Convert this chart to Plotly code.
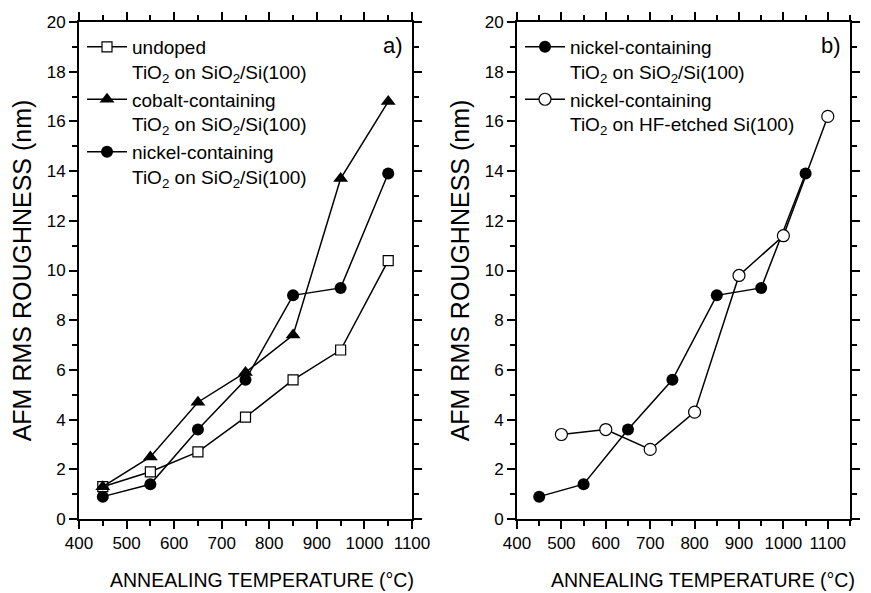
import plotly.graph_objects as go

temps_a = [450, 550, 650, 750, 850, 950, 1050]
undoped = [1.3, 1.9, 2.7, 4.1, 5.6, 6.8, 10.4]
cobalt = [1.3, 2.5, 4.7, 5.9, 7.4, 13.7, 16.8]
nickel = [0.9, 1.4, 3.6, 5.6, 9.0, 9.3, 13.9]

temps_hf = [500, 600, 700, 800, 900, 1000, 1100]
nickel_hf = [3.4, 3.6, 2.8, 4.3, 9.8, 11.4, 16.2]

x_ticks = [400, 500, 600, 700, 800, 900, 1000, 1100]
y_ticks = [0, 2, 4, 6, 8, 10, 12, 14, 16, 18, 20]

X_TITLE = "ANNEALING TEMPERATURE (°C)"
Y_TITLE = "AFM RMS ROUGHNESS (nm)"

FONT = "Liberation Sans"
W, H = 871, 593
line = dict(color="black", width=1.5)

fig = go.Figure()
fig.add_trace(go.Scatter(x=temps_a, y=undoped, mode="lines+markers", line=line,
                         marker=dict(symbol="square", size=10, color="white", line=dict(color="black", width=1.2)),
                         name="undoped<br>TiO<sub>2</sub> on SiO<sub>2</sub>/Si(100)", xaxis="x", yaxis="y", legend="legend"))
fig.add_trace(go.Scatter(x=temps_a, y=cobalt, mode="lines+markers", line=line,
                         marker=dict(symbol="triangle-up", size=13, color="black"),
                         name="cobalt-containing<br>TiO<sub>2</sub> on SiO<sub>2</sub>/Si(100)", xaxis="x", yaxis="y", legend="legend"))
fig.add_trace(go.Scatter(x=temps_a, y=nickel, mode="lines+markers", line=line,
                         marker=dict(symbol="circle", size=12, color="black"),
                         name="nickel-containing<br>TiO<sub>2</sub> on SiO<sub>2</sub>/Si(100)", xaxis="x", yaxis="y", legend="legend"))
fig.add_trace(go.Scatter(x=temps_a, y=nickel, mode="lines+markers", line=line,
                         marker=dict(symbol="circle", size=12, color="black"),
                         name="nickel-containing<br>TiO<sub>2</sub> on SiO<sub>2</sub>/Si(100)", xaxis="x2", yaxis="y2", legend="legend2"))
fig.add_trace(go.Scatter(x=temps_hf, y=nickel_hf, mode="lines+markers", line=line,
                         marker=dict(symbol="circle", size=12, color="white", line=dict(color="black", width=1.2)),
                         name="nickel-containing<br>TiO<sub>2</sub> on HF-etched Si(100)", xaxis="x2", yaxis="y2", legend="legend2"))

x0a, x1a = 79 / W, 412 / W
x0b, x1b = 517 / W, 850 / W
y0, y1 = (H - 519) / H, (H - 22) / H


def xaxis(domain, anchor, rng):
    return dict(domain=domain, anchor=anchor, range=rng, tickvals=x_ticks, automargin=False,
                ticks="outside", ticklen=8, tickwidth=1.5, tickcolor="black",
                minor=dict(dtick=50, tick0=400, ticks="outside", ticklen=5, tickwidth=1.5, tickcolor="black"),
                showline=True, linewidth=2, linecolor="black", mirror="allticks",
                showgrid=False, zeroline=False,
                tickfont=dict(size=17, color="black", family=FONT))


def yaxis(anchor):
    return dict(domain=[y0, y1], anchor=anchor, range=[0, 20], tickvals=y_ticks, automargin=False,
                ticks="outside", ticklen=8, tickwidth=1.5, tickcolor="black",
                minor=dict(dtick=1, ticks="outside", ticklen=5, tickwidth=1.5, tickcolor="black"),
                showline=True, linewidth=2, linecolor="black", mirror="allticks",
                showgrid=False, zeroline=False,
                tickfont=dict(size=17, color="black", family=FONT),
                title=dict(text=Y_TITLE, font=dict(size=25, color="black", family=FONT), standoff=8))


legend_common = dict(bgcolor="rgba(0,0,0,0)", borderwidth=0, valign="top", itemwidth=40,
                     font=dict(size=19, color="black", family=FONT), tracegroupgap=0,
                     xanchor="left", yanchor="top", itemclick=False)

fig.update_layout(
    width=W, height=H, margin=dict(l=0, r=0, t=0, b=0),
    paper_bgcolor="white", plot_bgcolor="white",
    font=dict(family=FONT, color="black"),
    xaxis=xaxis([x0a, x1a], "y", [400, 1100]), yaxis=yaxis("x"),
    xaxis2=xaxis([x0b, x1b], "y2", [400, 1150]), yaxis2=yaxis("x2"),
    legend=dict(x=82 / W, y=1 - 28 / H, **legend_common),
    legend2=dict(x=520 / W, y=1 - 28 / H, **legend_common),
    annotations=[
        dict(text="a)", xref="paper", yref="paper", x=405 / W, y=1 - 45 / H, xanchor="right", yanchor="middle",
             showarrow=False, font=dict(size=22, color="black", family=FONT)),
        dict(text="b)", xref="paper", yref="paper", x=843 / W, y=1 - 45 / H, xanchor="right", yanchor="middle",
             showarrow=False, font=dict(size=22, color="black", family=FONT)),
        dict(text=X_TITLE, xref="paper", yref="paper", x=262 / W, y=1 - 580 / H, xanchor="center", yanchor="middle",
             showarrow=False, font=dict(size=19.5, color="black", family=FONT)),
        dict(text=X_TITLE, xref="paper", yref="paper", x=703 / W, y=1 - 580 / H, xanchor="center", yanchor="middle",
             showarrow=False, font=dict(size=19.5, color="black", family=FONT)),
    ],
)

fig.write_html("out.html")
